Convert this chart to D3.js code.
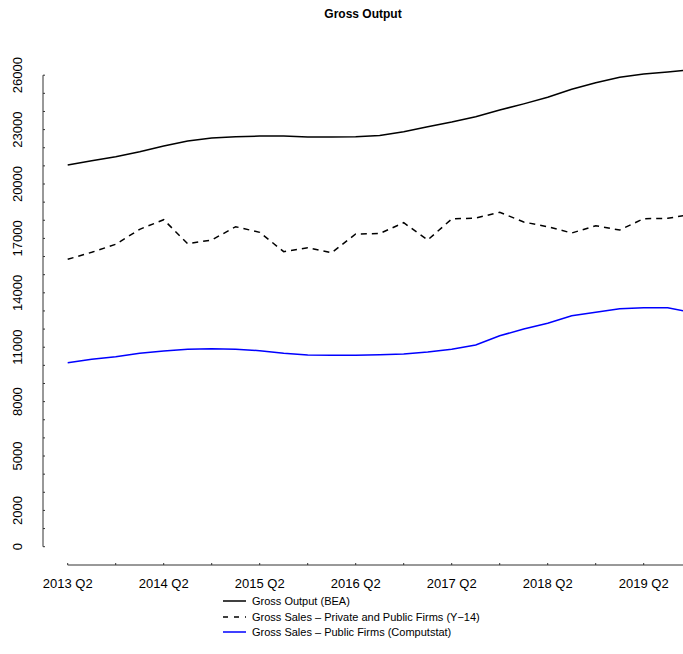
<!DOCTYPE html>
<html>
<head>
<meta charset="utf-8">
<script src="https://cdn.jsdelivr.net/npm/d3@7"></script>
<style>
  body { margin: 0; background: #fff; }
  svg { display: block; font-family: "Liberation Sans", Arial, sans-serif; }
</style>
</head>
<body>
<svg id="chart" width="683" height="654"></svg>
<script>
// ---- Data ----
const quarters = [
  "2013 Q2","2013 Q3","2013 Q4","2014 Q1","2014 Q2","2014 Q3","2014 Q4","2015 Q1",
  "2015 Q2","2015 Q3","2015 Q4","2016 Q1","2016 Q2","2016 Q3","2016 Q4","2017 Q1",
  "2017 Q2","2017 Q3","2017 Q4","2018 Q1","2018 Q2","2018 Q3","2018 Q4","2019 Q1",
  "2019 Q2","2019 Q3","2019 Q4"
];
const grossOutputBEA = [21048, 21285, 21505, 21781, 22095, 22371, 22537, 22608, 22646, 22646, 22592, 22592, 22608, 22680, 22884, 23160, 23418, 23711, 24080, 24420, 24781, 25222, 25586, 25884, 26066, 26176, 26313];
const grossSalesY14 = [15848, 16234, 16675, 17502, 18031, 16708, 16912, 17645, 17336, 16267, 16487, 16212, 17243, 17270, 17866, 16912, 18070, 18125, 18439, 17905, 17645, 17298, 17700, 17463, 18087, 18108, 18335];
const grossSalesCompustat = [10146, 10333, 10477, 10664, 10791, 10885, 10918, 10885, 10808, 10664, 10571, 10554, 10554, 10580, 10626, 10736, 10885, 11122, 11635, 12000, 12318, 12738, 12925, 13124, 13179, 13179, 12925];
const yTickValues = d3.range(0, 26001, 1000);
const yTickLabels = [0, 2000, 5000, 8000, 11000, 14000, 17000, 20000, 23000, 26000];
const xLabelQuarters = ["2013 Q2","2014 Q2","2015 Q2","2016 Q2","2017 Q2","2018 Q2","2019 Q2"];
const seriesNames = ["Gross Output (BEA)", "Gross Sales \u2013 Private and Public Firms (Y\u221214)", "Gross Sales \u2013 Public Firms (Computstat)"];
const title = "Gross Output";

// ---- Drawing ----
const svg = d3.select("#chart");
const x = d3.scaleLinear().domain([0, quarters.length - 1]).range([67.7, 691.7]);
const y = d3.scaleLinear().domain([0, 26000]).range([546.7, 75.2]);
const axisColor = "#333";

svg.append("text").attr("x", 363).attr("y", 18).attr("text-anchor", "middle")
  .attr("font-size", 12).attr("font-weight", "bold").text(title);

// y axis
const yAxisX = 43;
const gy = svg.append("g");
gy.append("line").attr("x1", yAxisX).attr("x2", yAxisX).attr("y1", y(0)).attr("y2", y(26000))
  .attr("stroke", axisColor).attr("stroke-width", 1);
gy.selectAll("line.t").data(yTickValues).join("line").attr("class", "t")
  .attr("x1", yAxisX).attr("x2", yAxisX + 2).attr("y1", d => y(d)).attr("y2", d => y(d))
  .attr("stroke", axisColor);
gy.selectAll("text").data(yTickLabels).join("text")
  .attr("transform", d => `translate(22,${y(d)}) rotate(-90)`)
  .attr("text-anchor", "middle").attr("font-size", 13).attr("fill", "#000").text(d => d);

// x axis
const xAxisY = 565;
const gx = svg.append("g");
gx.append("line").attr("x1", x(0)).attr("x2", 700).attr("y1", xAxisY).attr("y2", xAxisY)
  .attr("stroke", axisColor);
const xTickIdx = d3.range(0, quarters.length, 2);
gx.selectAll("line.t").data(xTickIdx).join("line").attr("class", "t")
  .attr("x1", d => x(d)).attr("x2", d => x(d)).attr("y1", xAxisY).attr("y2", xAxisY - 2)
  .attr("stroke", axisColor);
gx.selectAll("text").data(xLabelQuarters).join("text")
  .attr("x", d => x(quarters.indexOf(d))).attr("y", 588)
  .attr("text-anchor", "middle").attr("font-size", 13).text(d => d);

// lines
const series = [
  { values: grossOutputBEA, color: "#000", dash: null },
  { values: grossSalesY14, color: "#000", dash: "6,5" },
  { values: grossSalesCompustat, color: "#0000ff", dash: null }
];
const line = d3.line().x((d, i) => x(i)).y(d => y(d));
series.forEach(s => {
  svg.append("path").datum(s.values).attr("d", line)
    .attr("fill", "none").attr("stroke", s.color).attr("stroke-width", 1.5)
    .attr("stroke-dasharray", s.dash);
});

// legend
const lg = svg.append("g");
const legendY = [601, 617, 632];
series.forEach((s, i) => {
  lg.append("line").attr("x1", 223).attr("x2", 246).attr("y1", legendY[i]).attr("y2", legendY[i])
    .attr("stroke", s.color).attr("stroke-width", 1.5).attr("stroke-dasharray", s.dash ? "5,6" : null);
  lg.append("text").attr("x", 252).attr("y", legendY[i] + 4).attr("font-size", 11).text(seriesNames[i]);
});
</script>
</body>
</html>
